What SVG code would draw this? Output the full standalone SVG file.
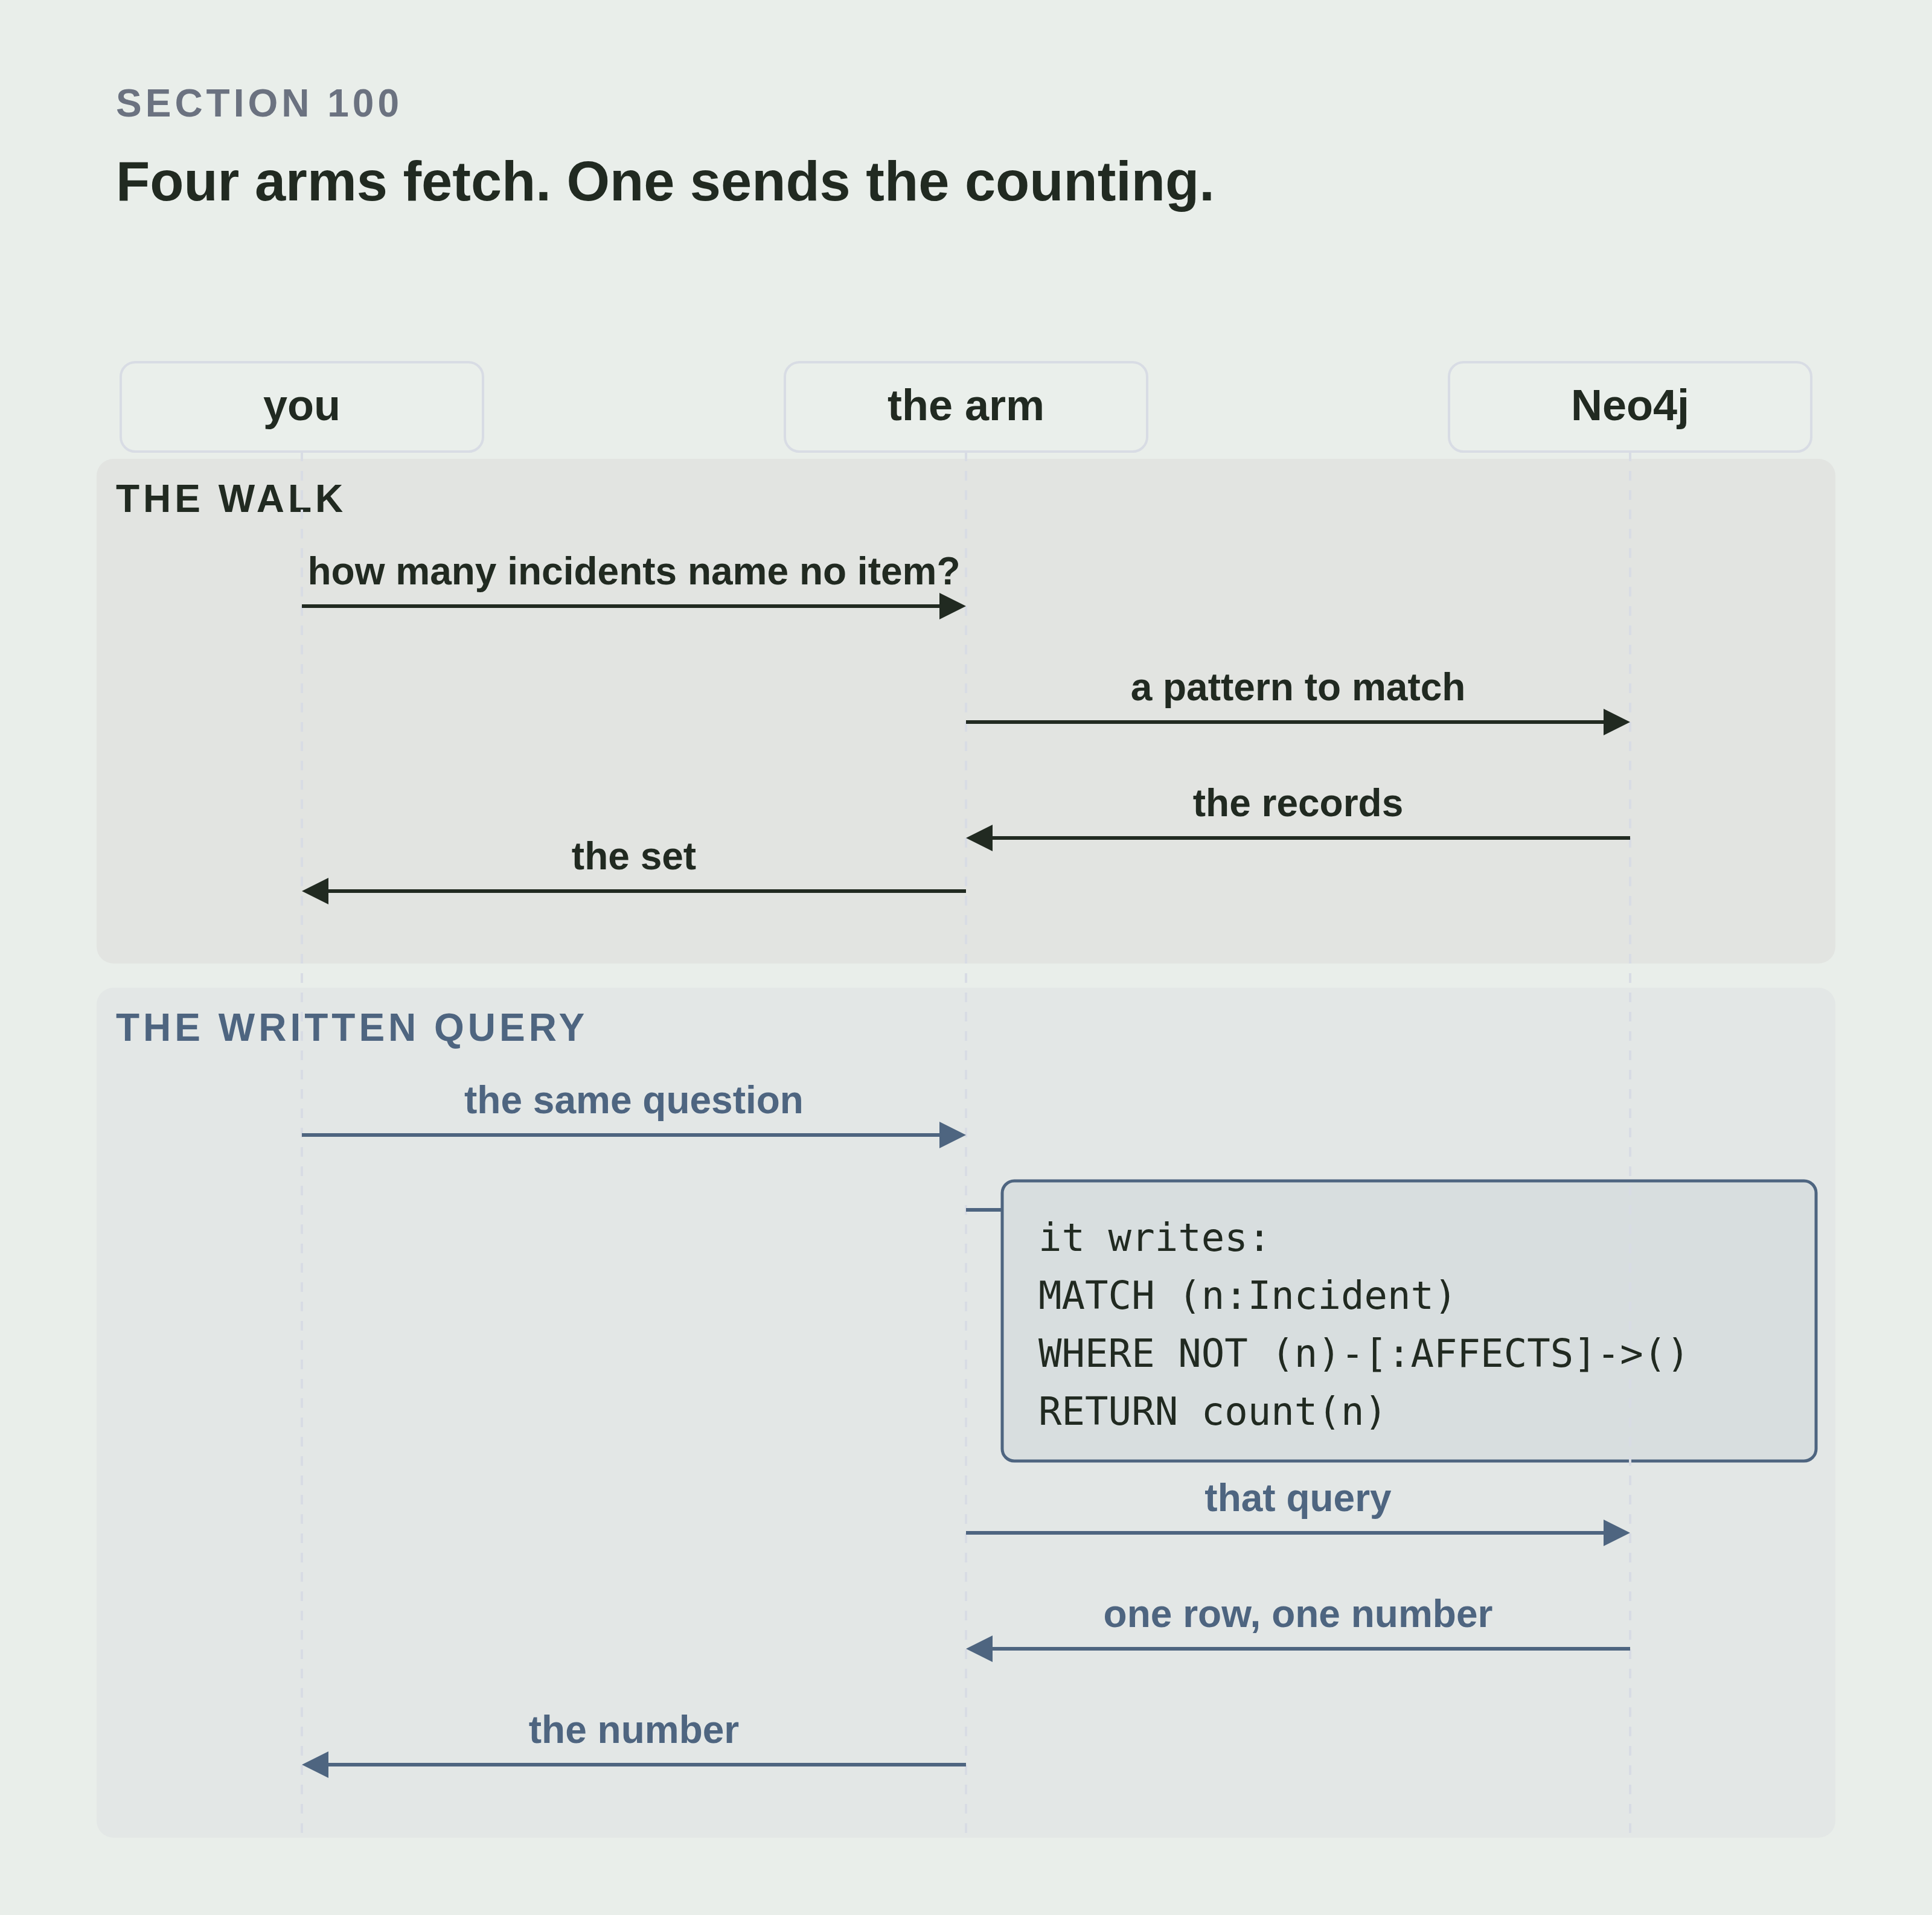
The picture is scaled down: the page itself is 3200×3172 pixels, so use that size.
<svg xmlns="http://www.w3.org/2000/svg" width="3200" height="3172" viewBox="0 0 3200 3172">
<style>
.sans{font-family:"Liberation Sans",Arial,sans-serif;font-weight:bold}
.mono{font-family:"DejaVu Sans Mono","Liberation Mono",monospace;font-size:64px;fill:#212a21}
.kicker{font-size:64px;fill:#6b7280;letter-spacing:6px}
.title{font-size:92px;fill:#212a21}
.plabel{font-size:72px;fill:#212a21;text-anchor:middle}
.pbox{fill:#eaefeb;stroke:#d8dce4;stroke-width:4}
.glabel{font-size:64px;letter-spacing:6px}
.life{stroke:#d8dce4;stroke-width:4;stroke-dasharray:16 16;fill:none}
.msg{font-size:64px;text-anchor:middle}
.dark{fill:#212a21}
.blue{fill:#4e6580}
.ldark{stroke:#212a21;stroke-width:6;fill:none}
.lblue{stroke:#4e6580;stroke-width:6;fill:none}
</style>
<defs>
<marker id="ahDark" markerUnits="userSpaceOnUse" markerWidth="44" markerHeight="44" refX="4" refY="22" orient="auto">
<path d="M0,0 L44,22 L0,44 z" fill="#212a21"/>
</marker>
<marker id="ahBlue" markerUnits="userSpaceOnUse" markerWidth="44" markerHeight="44" refX="4" refY="22" orient="auto">
<path d="M0,0 L44,22 L0,44 z" fill="#4e6580"/>
</marker>
</defs>
<rect x="0" y="0" width="3200" height="3172" fill="#e9eeea"/>
<g id="header">
<text class="sans kicker" x="192" y="193">SECTION 100</text>
<text class="sans title" x="192" y="332">Four arms fetch. One sends the counting.</text>
</g>
<g id="group-walk">
<rect x="160" y="760" width="2880" height="836" rx="28" fill="#e2e4e1"/>
<text class="sans glabel dark" x="192" y="848">THE WALK</text>
</g>
<g id="group-written-query">
<rect x="160" y="1636" width="2880" height="1408" rx="28" fill="#e3e7e6"/>
<text class="sans glabel blue" x="192" y="1724">THE WRITTEN QUERY</text>
</g>
<g id="note-query-box">
<rect x="1660" y="1956" width="1348" height="464" rx="20" fill="#d8dedf" stroke="#4e6580" stroke-width="5"/>
</g>
<g id="lifelines">
<line class="life" x1="500" y1="748" x2="500" y2="3044"/>
<line class="life" x1="1600" y1="748" x2="1600" y2="3044"/>
<line class="life" x1="2700" y1="748" x2="2700" y2="3044"/>
</g>
<g id="p-you">
<rect class="pbox" x="200" y="600" width="600" height="148" rx="24"/>
<text class="sans plabel" x="500" y="696">you</text>
</g>
<g id="p-arm">
<rect class="pbox" x="1300" y="600" width="600" height="148" rx="24"/>
<text class="sans plabel" x="1600" y="696">the arm</text>
</g>
<g id="p-neo4j">
<rect class="pbox" x="2400" y="600" width="600" height="148" rx="24"/>
<text class="sans plabel" x="2700" y="696">Neo4j</text>
</g>
<g id="note-query-text">
<text class="mono" x="1720" y="2072">it writes:</text>
<text class="mono" x="1720" y="2168">MATCH (n:Incident)</text>
<text class="mono" x="1720" y="2264">WHERE NOT (n)-[:AFFECTS]-&gt;()</text>
<text class="mono" x="1720" y="2360">RETURN count(n)</text>
</g>
<g id="connectors">
<line class="ldark" x1="500" y1="1004" x2="1560" y2="1004" marker-end="url(#ahDark)"/>
<text class="sans msg dark" x="1050" y="968">how many incidents name no item?</text>
<line class="ldark" x1="1600" y1="1196" x2="2660" y2="1196" marker-end="url(#ahDark)"/>
<text class="sans msg dark" x="2150" y="1160">a pattern to match</text>
<line class="ldark" x1="2700" y1="1388" x2="1640" y2="1388" marker-end="url(#ahDark)"/>
<text class="sans msg dark" x="2150" y="1352">the records</text>
<line class="ldark" x1="1600" y1="1476" x2="540" y2="1476" marker-end="url(#ahDark)"/>
<text class="sans msg dark" x="1050" y="1440">the set</text>
<line class="lblue" x1="500" y1="1880" x2="1560" y2="1880" marker-end="url(#ahBlue)"/>
<text class="sans msg blue" x="1050" y="1844">the same question</text>
<line class="lblue" x1="1600" y1="2004" x2="1660" y2="2004"/>
<line class="lblue" x1="1600" y1="2539" x2="2660" y2="2539" marker-end="url(#ahBlue)"/>
<text class="sans msg blue" x="2150" y="2503">that query</text>
<line class="lblue" x1="2700" y1="2731" x2="1640" y2="2731" marker-end="url(#ahBlue)"/>
<text class="sans msg blue" x="2150" y="2695">one row, one number</text>
<line class="lblue" x1="1600" y1="2923" x2="540" y2="2923" marker-end="url(#ahBlue)"/>
<text class="sans msg blue" x="1050" y="2887">the number</text>
</g>
</svg>
